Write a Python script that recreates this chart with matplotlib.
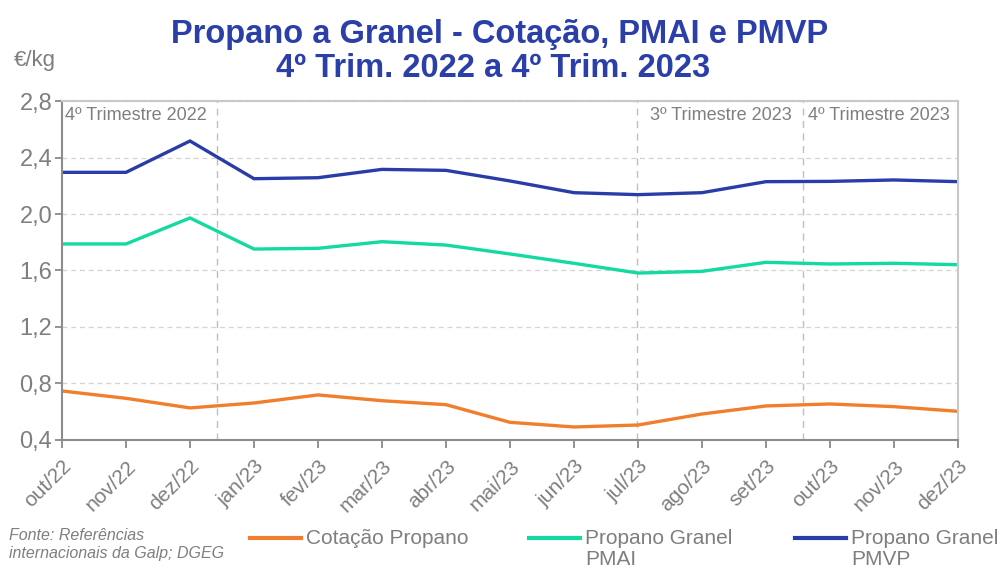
import matplotlib
matplotlib.use("Agg")
import matplotlib.pyplot as plt
from matplotlib.lines import Line2D
from matplotlib.ticker import FuncFormatter, MultipleLocator

plt.rcParams['font.family'] = ['Liberation Sans', 'DejaVu Sans']

meses = ['out/22', 'nov/22', 'dez/22', 'jan/23', 'fev/23', 'mar/23', 'abr/23', 'mai/23',
         'jun/23', 'jul/23', 'ago/23', 'set/23', 'out/23', 'nov/23', 'dez/23']

cotacao = [0.747, 0.695, 0.627, 0.662, 0.719, 0.678, 0.650, 0.525,
           0.492, 0.506, 0.584, 0.641, 0.655, 0.636, 0.603]
pmai = [1.788, 1.788, 1.972, 1.752, 1.757, 1.804, 1.780, 1.717,
        1.651, 1.582, 1.594, 1.658, 1.646, 1.651, 1.641]
pmvp = [2.295, 2.295, 2.517, 2.250, 2.257, 2.316, 2.309, 2.234,
        2.151, 2.137, 2.151, 2.229, 2.231, 2.241, 2.229]

series = ['Cotação Propano', 'Propano Granel\nPMAI', 'Propano Granel\nPMVP']
cores = ['#F07F2D', '#14D9A0', '#2A3CA8']

# separadores de trimestre (posição em meses) e os rótulos
separadores = [2.42, 8.98, 11.58]
trimestres = ['4º Trimestre 2022', '3º Trimestre 2023', '4º Trimestre 2023']

cinza = '#7F7F7F'
azul_titulo = '#2B3FA8'

fig = plt.figure(figsize=(10, 5.72), dpi=100)
ax = fig.add_axes([0.062, 0.2308, 0.896, 0.5926])

x = list(range(len(meses)))
for dados, cor in zip([cotacao, pmai, pmvp], cores):
    ax.plot(x, dados, color=cor, lw=2.4, solid_joinstyle='miter')

ax.set_xlim(0, len(meses) - 1)
ax.set_ylim(0.4, 2.8)
ax.yaxis.set_major_locator(MultipleLocator(0.4))
ax.yaxis.set_major_formatter(FuncFormatter(lambda v, p: f'{v:.1f}'.replace('.', ',')))
ax.grid(axis='y', color='#D4D4D4', ls=(0, (4, 3)), lw=0.9)
ax.set_axisbelow(True)

for s in separadores:
    ax.axvline(s, color='#BFBFBF', ls=(0, (5, 4)), lw=1.0, zorder=1)

ty = 2.694
ax.text(0.05, ty, trimestres[0], color=cinza, fontsize=13, va='center', ha='left')
ax.text(separadores[1] + 0.2, ty, trimestres[1], color=cinza, fontsize=13, va='center', ha='left')
ax.text(separadores[2] + 0.07, ty, trimestres[2], color=cinza, fontsize=13, va='center', ha='left')

ax.set_xticks(x)
ax.set_xticklabels(meses, rotation=45, ha='right', rotation_mode='anchor')
ax.tick_params(axis='x', colors=cinza, labelsize=15, length=6, width=1.2, pad=6)
ax.tick_params(axis='y', colors=cinza, labelsize=17, length=5, width=1.2, pad=2)
for lado in ['left', 'bottom']:
    ax.spines[lado].set_color('#8C8C8C')
    ax.spines[lado].set_linewidth(1.5)
for lado in ['top', 'right']:
    ax.spines[lado].set_color('#C8C8C8')
    ax.spines[lado].set_linewidth(1.5)

fig.text(0.5, 0.940, 'Propano a Granel - Cotação, PMAI e PMVP', ha='center', va='center',
         fontsize=23.5, fontweight='bold', color=azul_titulo)
fig.text(0.493, 0.880, '4º Trim. 2022 a 4º Trim. 2023', ha='center', va='center',
         fontsize=23.5, fontweight='bold', color=azul_titulo)
fig.text(0.014, 0.894, '€/kg', ha='left', va='center', fontsize=16, color=cinza)

fig.text(0.009, 0.020, 'Fonte: Referências\ninternacionais da Galp; DGEG', ha='left', va='bottom',
         fontsize=11.5, style='italic', color=cinza, linespacing=1.2)

# legenda desenhada à mão para alinhar a 1ª linha do texto com a linha
leg_x = [0.250, 0.529, 0.795]
for lx, nome, cor in zip(leg_x, series, cores):
    fig.add_artist(Line2D([lx, lx + 0.051], [0.059, 0.059], color=cor, lw=3,
                          transform=fig.transFigure))
    fig.text(lx + 0.056, 0.076, nome, ha='left', va='top', fontsize=15, color=cinza,
             linespacing=1.15)

fig.savefig('out.png', dpi=100)
